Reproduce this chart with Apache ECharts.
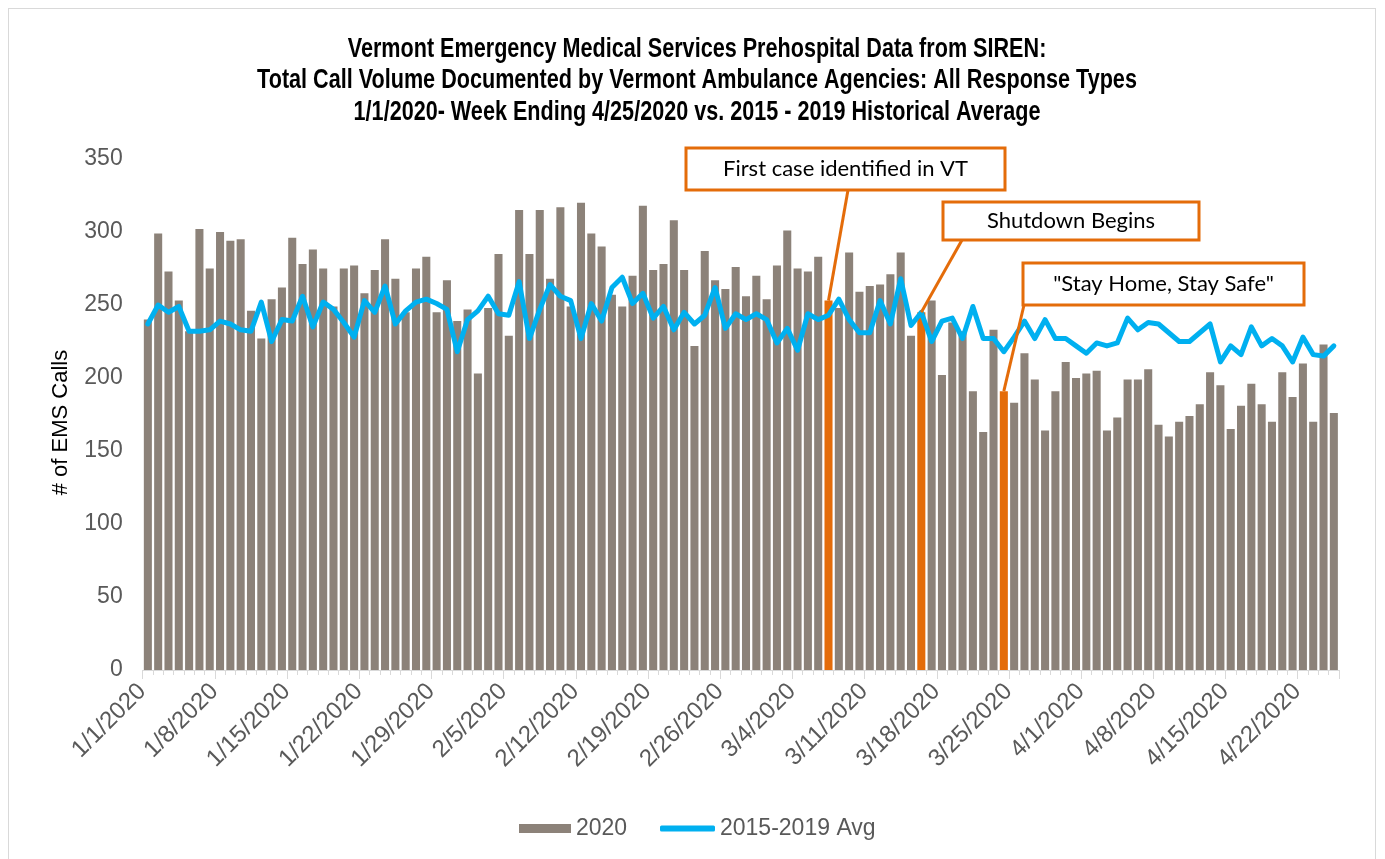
<!DOCTYPE html>
<html>
<head>
<meta charset="utf-8">
<script src="https://cdn.jsdelivr.net/npm/echarts@6/dist/echarts.min.js"></script>
<style>
  html, body { margin: 0; padding: 0; background: #fff; }
  #frame { position: absolute; left: 8px; top: 8px; width: 1368px; height: 870px; border: 1px solid #D9D9D9; box-sizing: border-box; }
  #chart { position: absolute; left: 0; top: 0; width: 1385px; height: 859px; }
</style>
</head>
<body>
<div id="frame"></div>
<div id="chart"></div>
<script>
// ---- data ----
var monthLengths = [31, 29, 31, 25]; // Jan..Apr 25, 2020
var categories = [];
for (var m = 0; m < monthLengths.length; m++) {
  for (var d = 1; d <= monthLengths[m]; d++) categories.push((m + 1) + '/' + d + '/2020');
}
var calls2020 = [
  240,299,273,253,232,302,275,300,294,295,
  246,227,254,262,296,278,288,275,249,275,
  277,258,274,295,268,245,275,283,245,267,
  239,247,203,248,285,229,315,285,315,268,
  317,249,320,299,290,257,249,270,318,274,
  278,308,274,222,287,267,261,276,256,270,
  254,277,301,275,273,283,253,248,286,259,
  263,264,271,286,229,245,253,202,238,232,
  191,163,233,191,183,217,199,164,191,211,
  200,203,205,164,173,199,199,206,168,160,
  170,174,182,204,195,165,181,196,182,170,
  204,187,210,170,223,176
];
var avg2015_2019 = [
  237,250,245,249,232,232,233,239,237,233,
  232,252,225,240,239,256,235,252,247,238,
  228,253,245,263,237,246,252,254,251,247,
  218,240,246,256,244,243,266,227,247,264,
  256,253,227,251,239,262,269,251,258,241,
  249,233,245,237,243,262,234,244,240,244,
  240,224,234,219,244,240,243,254,240,231,
  231,253,237,268,236,245,225,239,241,227,
  249,227,227,218,228,239,227,240,227,227,
  222,217,224,222,224,241,233,238,237,231,
  225,225,231,237,211,222,216,235,222,227,
  222,211,228,216,215,222
];
var yTicks = [0, 50, 100, 150, 200, 250, 300, 350];
var seriesNames = ['2020', '2015-2019 Avg'];
var titleLines = [
  'Vermont Emergency Medical Services Prehospital Data from SIREN:',
  'Total Call Volume Documented by Vermont Ambulance Agencies: All Response Types',
  '1/1/2020- Week Ending 4/25/2020 vs. 2015 - 2019 Historical Average'
];
var eventDates = ['3/7/2020', '3/16/2020', '3/24/2020'];
var eventLabels = ['First case identified in VT', 'Shutdown Begins', '"Stay Home, Stay Safe"'];

// ---- colours ----
var BAR = '#8C8279', ORANGE = '#E46C0A', BLUE = '#00B0F0', GREY = '#595959';
var SANS = "'Liberation Sans', Arial, sans-serif";

var eventIdx = eventDates.map(function (d) { return categories.indexOf(d); });
var barData = calls2020.map(function (v, i) {
  return eventIdx.indexOf(i) >= 0 ? { value: v, itemStyle: { color: ORANGE } } : v;
});

var chart = echarts.init(document.getElementById('chart'), null, { renderer: 'canvas' });
var option = {
  animation: false,
  grid: { left: 142.7, right: 46, top: 159, bottom: 189, containLabel: false },
  legend: [{
    top: 817, left: 519, padding: 0,
    itemWidth: 52, itemHeight: 9,
    textStyle: { fontFamily: SANS, fontSize: 23, color: GREY },
    data: [{ name: seriesNames[0], icon: 'rect' }]
  }, {
    top: 817, left: 660, padding: 0,
    itemWidth: 55, itemHeight: 6,
    textStyle: { fontFamily: SANS, fontSize: 23, color: GREY },
    data: [{ name: seriesNames[1], icon: 'roundRect' }]
  }],
  xAxis: [{
    type: 'category', data: categories, position: 'bottom',
    axisLine: { lineStyle: { color: '#D9D9D9', width: 1 } },
    axisTick: { show: true, interval: 0, length: 5, lineStyle: { color: '#D9D9D9' } },
    axisLabel: { interval: 6, rotate: 45, margin: 12, padding: [0, 8, 0, 0], fontSize: 24, color: GREY, fontFamily: SANS }
  }, {
    type: 'category', data: categories, position: 'bottom',
    axisLine: { show: false },
    axisTick: { show: true, interval: 6, length: 9, lineStyle: { color: '#D9D9D9' } },
    axisLabel: { show: false }
  }],
  yAxis: {
    type: 'value', min: yTicks[0], max: yTicks[yTicks.length - 1], interval: 50,
    name: '# of EMS Calls', nameLocation: 'middle', nameGap: 71,
    nameTextStyle: { fontSize: 22, color: '#000', fontFamily: SANS, padding: [0, 16, 0, 0] },
    axisLine: { show: false }, axisTick: { show: false }, splitLine: { show: false },
    axisLabel: { fontSize: 23, color: GREY, margin: 20, fontFamily: SANS }
  },
  series: [{
    name: seriesNames[0], type: 'bar', data: barData, barCategoryGap: '22%',
    itemStyle: { color: BAR }
  }, {
    name: seriesNames[1], type: 'line', data: avg2015_2019, symbol: 'none',
    lineStyle: { color: BLUE, width: 5, cap: 'round', join: 'round' }, itemStyle: { color: BLUE }
  }]
};
chart.setOption(option);

// title (condensed bold) + callout boxes with leader lines to the event bars
var g = [{
  type: 'text', x: 697, y: 81, scaleX: 0.8, z: 110,
  style: { text: titleLines.join('\n'), font: "bold 27px 'Liberation Sans', Arial, sans-serif", lineHeight: 31.5, fill: '#000', textAlign: 'center', textVerticalAlign: 'middle' }
}];
var boxes = [
  { x: 686, y: 148, w: 319, h: 42, from: [848, 190] },
  { x: 943, y: 202, w: 256, h: 38, from: [962, 240] },
  { x: 1023, y: 263, w: 281, h: 42, from: [1024, 305] }
];
boxes.forEach(function (b, k) {
  var idx = eventIdx[k];
  var top = chart.convertToPixel({ seriesIndex: 0 }, [idx, calls2020[idx]]);
  g.push({ type: 'line', shape: { x1: b.from[0], y1: b.from[1], x2: top[0], y2: top[1] }, style: { stroke: ORANGE, lineWidth: 3 }, z: 100 });
  g.push({ type: 'rect', shape: { x: b.x, y: b.y, width: b.w, height: b.h }, style: { fill: '#fff', stroke: ORANGE, lineWidth: 3 }, z: 101 });
  g.push({ type: 'text', x: b.x + b.w / 2, y: b.y + b.h / 2, style: { text: eventLabels[k], fill: '#000', font: "22px Lato, 'Liberation Sans', sans-serif", textAlign: 'center', textVerticalAlign: 'middle' }, z: 102 });
});
chart.setOption({ graphic: g });
</script>
</body>
</html>
